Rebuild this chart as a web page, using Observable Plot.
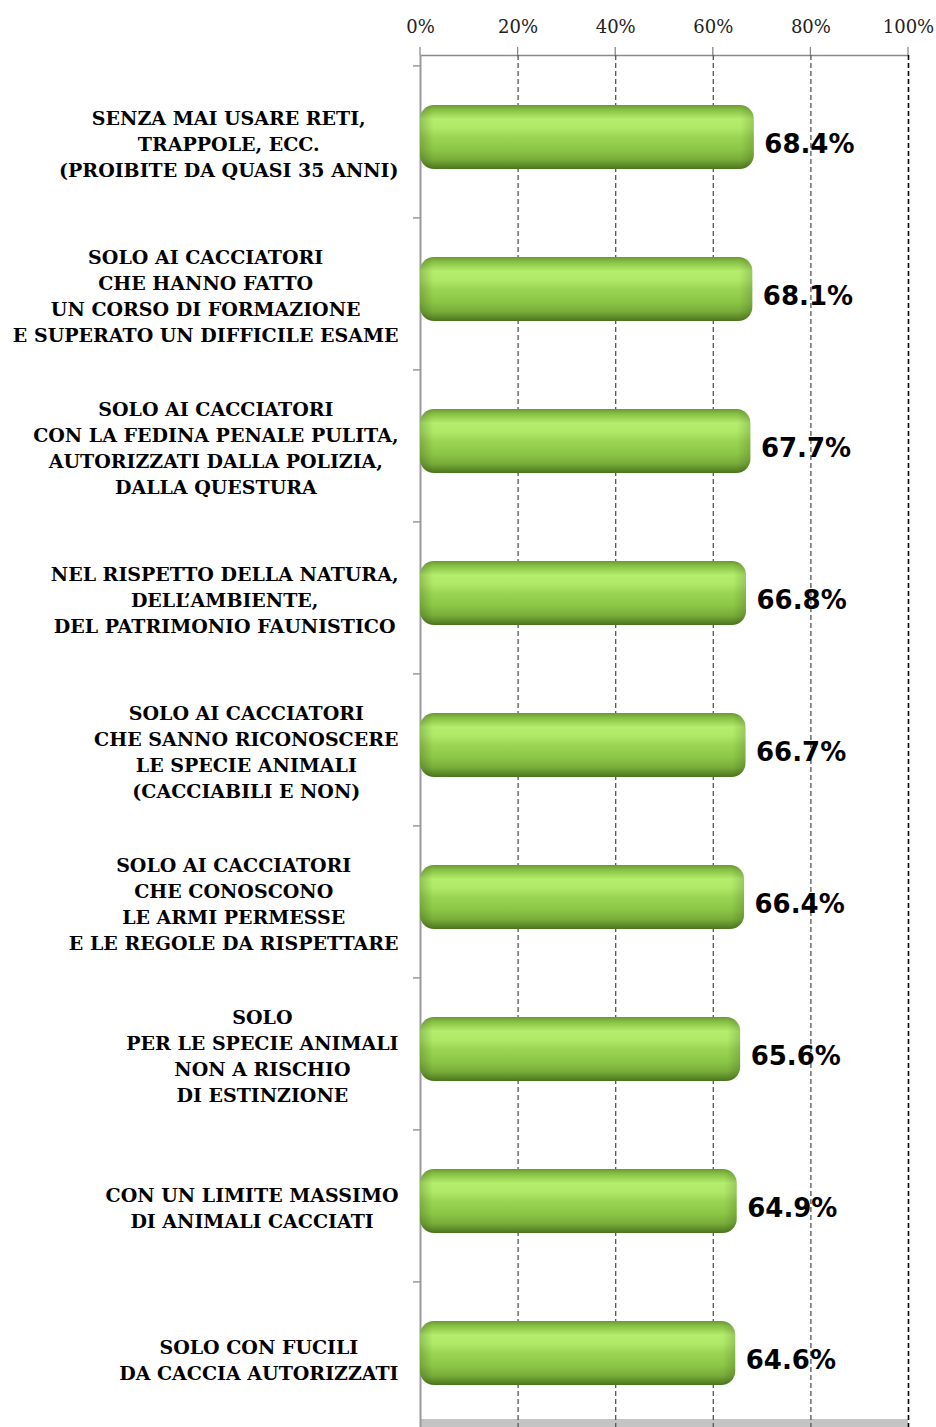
<!DOCTYPE html>
<html>
<head>
<meta charset="utf-8">
<script src="https://cdn.jsdelivr.net/npm/d3@7"></script>
<script src="https://cdn.jsdelivr.net/npm/@observablehq/plot@0.6"></script>
<style>
  body { margin: 0; background: #fff; }
</style>
</head>
<body>
<div id="chart"></div>
<script>
// ---- data ----
const categories = [
  "SENZA MAI USARE RETI,\nTRAPPOLE, ECC.\n(PROIBITE DA QUASI 35 ANNI)",
  "SOLO AI CACCIATORI\nCHE HANNO FATTO\nUN CORSO DI FORMAZIONE\nE SUPERATO UN DIFFICILE ESAME",
  "SOLO AI CACCIATORI\nCON LA FEDINA PENALE PULITA,\nAUTORIZZATI DALLA POLIZIA,\nDALLA QUESTURA",
  "NEL RISPETTO DELLA NATURA,\nDELL’AMBIENTE,\nDEL PATRIMONIO FAUNISTICO",
  "SOLO AI CACCIATORI\nCHE SANNO RICONOSCERE\nLE SPECIE ANIMALI\n(CACCIABILI E NON)",
  "SOLO AI CACCIATORI\nCHE CONOSCONO\nLE ARMI PERMESSE\nE LE REGOLE DA RISPETTARE",
  "SOLO\nPER LE SPECIE ANIMALI\nNON A RISCHIO\nDI ESTINZIONE",
  "CON UN LIMITE MASSIMO\nDI ANIMALI CACCIATI",
  "SOLO CON FUCILI\nDA CACCIA AUTORIZZATI"
];
const values = [0.684, 0.681, 0.677, 0.668, 0.667, 0.664, 0.656, 0.649, 0.646];
const xTicks = [0, 0.2, 0.4, 0.6, 0.8, 1.0];
const xTickLabels = ["0%", "20%", "40%", "60%", "80%", "100%"];

const data = categories.map((c, i) => ({cat: c, value: values[i]}));

// ---- styling helpers ----
const catFont = "DejaVu Serif";
const catSize = 19;
const catLineH = 26;
const padIn = 0.58, padOut = padIn / 2;

const ctx = document.createElement("canvas").getContext("2d");
ctx.font = `bold ${catSize}px '${catFont}'`;
function blockWidth(s) {
  return d3.max(s.split("\n"), l => ctx.measureText(l).width);
}

const NS = "http://www.w3.org/2000/svg";
function el(tag, attrs) {
  const e = document.createElementNS(NS, tag);
  for (const k in attrs) e.setAttribute(k, attrs[k]);
  return e;
}

function defsMark() {
  const defs = el("defs", {});
  const g = el("linearGradient", {id: "barGrad", x1: 0, y1: 0, x2: 0, y2: 1});
  [
    [0, "#6a9a30"], [0.07, "#86bd44"], [0.22, "#b4ee6c"], [0.36, "#aee866"],
    [0.5, "#9bd553"], [0.7, "#8cc646"], [0.85, "#78ad3a"], [0.94, "#5e8c2a"], [1, "#4b7320"]
  ].forEach(([o, c]) => g.appendChild(el("stop", {offset: o, "stop-color": c})));
  defs.appendChild(g);
  const h = el("linearGradient", {id: "endGrad", x1: 0, y1: 0, x2: 1, y2: 0});
  [[0, "#000", 0.18], [0.04, "#000", 0], [0.96, "#000", 0], [1, "#000", 0.15]]
    .forEach(([o, c, a]) => h.appendChild(el("stop", {offset: o, "stop-color": c, "stop-opacity": a})));
  defs.appendChild(h);
  return defs;
}

function decorMark(index, scales, values, dims) {
  const {marginLeft, marginRight, marginTop, marginBottom, width, height} = dims;
  const x0 = marginLeft, x1 = width - marginRight, yb = height - marginBottom;
  const g = el("g", {});
  g.appendChild(el("rect", {x: x0, y: yb, width: x1 - x0, height: marginBottom, fill: "#c4c4c4"}));
  g.appendChild(el("line", {x1: x0, x2: x1, y1: marginTop + 0.5, y2: marginTop + 0.5, stroke: "#8a8a8a", "stroke-width": 1.5}));
  // x ticks above the frame
  xTicks.forEach(t => {
    const xx = scales.x(t);
    g.appendChild(el("line", {x1: xx, x2: xx, y1: marginTop - 8, y2: marginTop, stroke: "#8a8a8a", "stroke-width": 1.3}));
  });
  // y ticks at category boundaries
  const starts = categories.map(c => scales.y(c));
  const step = starts[1] - starts[0];
  starts.forEach(s => {
    const yy = s - step * padOut;
    g.appendChild(el("line", {x1: x0 - 7, x2: x0, y1: yy, y2: yy, stroke: "#8a8a8a", "stroke-width": 1.3}));
  });
  return g;
}

const labelMarks = categories.map(c =>
  Plot.text([c], {
    y: d => d,
    text: d => d,
    frameAnchor: "left",
    textAnchor: "middle",
    lineAnchor: "middle",
    lineHeight: catLineH / catSize,
    dx: -22 - blockWidth(c) / 2,
    fontSize: catSize,
    fontWeight: "bold",
    fontFamily: catFont,
    fill: "#000"
  })
);

const chart = Plot.plot({
  width: 936,
  height: 1427,
  marginTop: 55,
  marginBottom: 8,
  marginLeft: 420,
  marginRight: 28,
  style: {background: "#fff", overflow: "visible"},
  x: {domain: [0, 1], axis: null},
  y: {domain: categories, range: [65, 1434], paddingInner: padIn, paddingOuter: padOut, axis: null},
  marks: [
    defsMark,
    decorMark,
    Plot.gridX(xTicks.slice(1, 5), {stroke: "#555", strokeOpacity: 1, strokeWidth: 1.3, strokeDasharray: "5,3", insetBottom: -8}),
    Plot.ruleX([xTicks[5]], {stroke: "#000", strokeWidth: 1.6, strokeDasharray: "5,3", insetBottom: -8}),
    Plot.ruleX([xTicks[0]], {stroke: "#999", strokeWidth: 2, insetBottom: -8}),
    Plot.text(xTicks, {
      x: d => d,
      text: (d, i) => xTickLabels[i],
      frameAnchor: "top",
      lineAnchor: "bottom",
      dy: -23,
      fontSize: 18,
      fontFamily: "DejaVu Serif",
      fill: "#222"
    }),
    Plot.barX(data, {x: "value", y: "cat", fill: "url(#barGrad)", rx: 14, dy: -5}),
    Plot.barX(data, {x: "value", y: "cat", fill: "url(#endGrad)", rx: 14, dy: -5}),
    Plot.text(data, {
      x: "value", y: "cat",
      text: d => (d.value * 100).toFixed(1) + "%",
      textAnchor: "start",
      dx: 10, dy: 2,
      fontSize: 26, fontWeight: "bold", fontFamily: "DejaVu Sans", fill: "#000"
    }),
    ...labelMarks
  ]
});

document.getElementById("chart").appendChild(chart);
</script>
</body>
</html>
